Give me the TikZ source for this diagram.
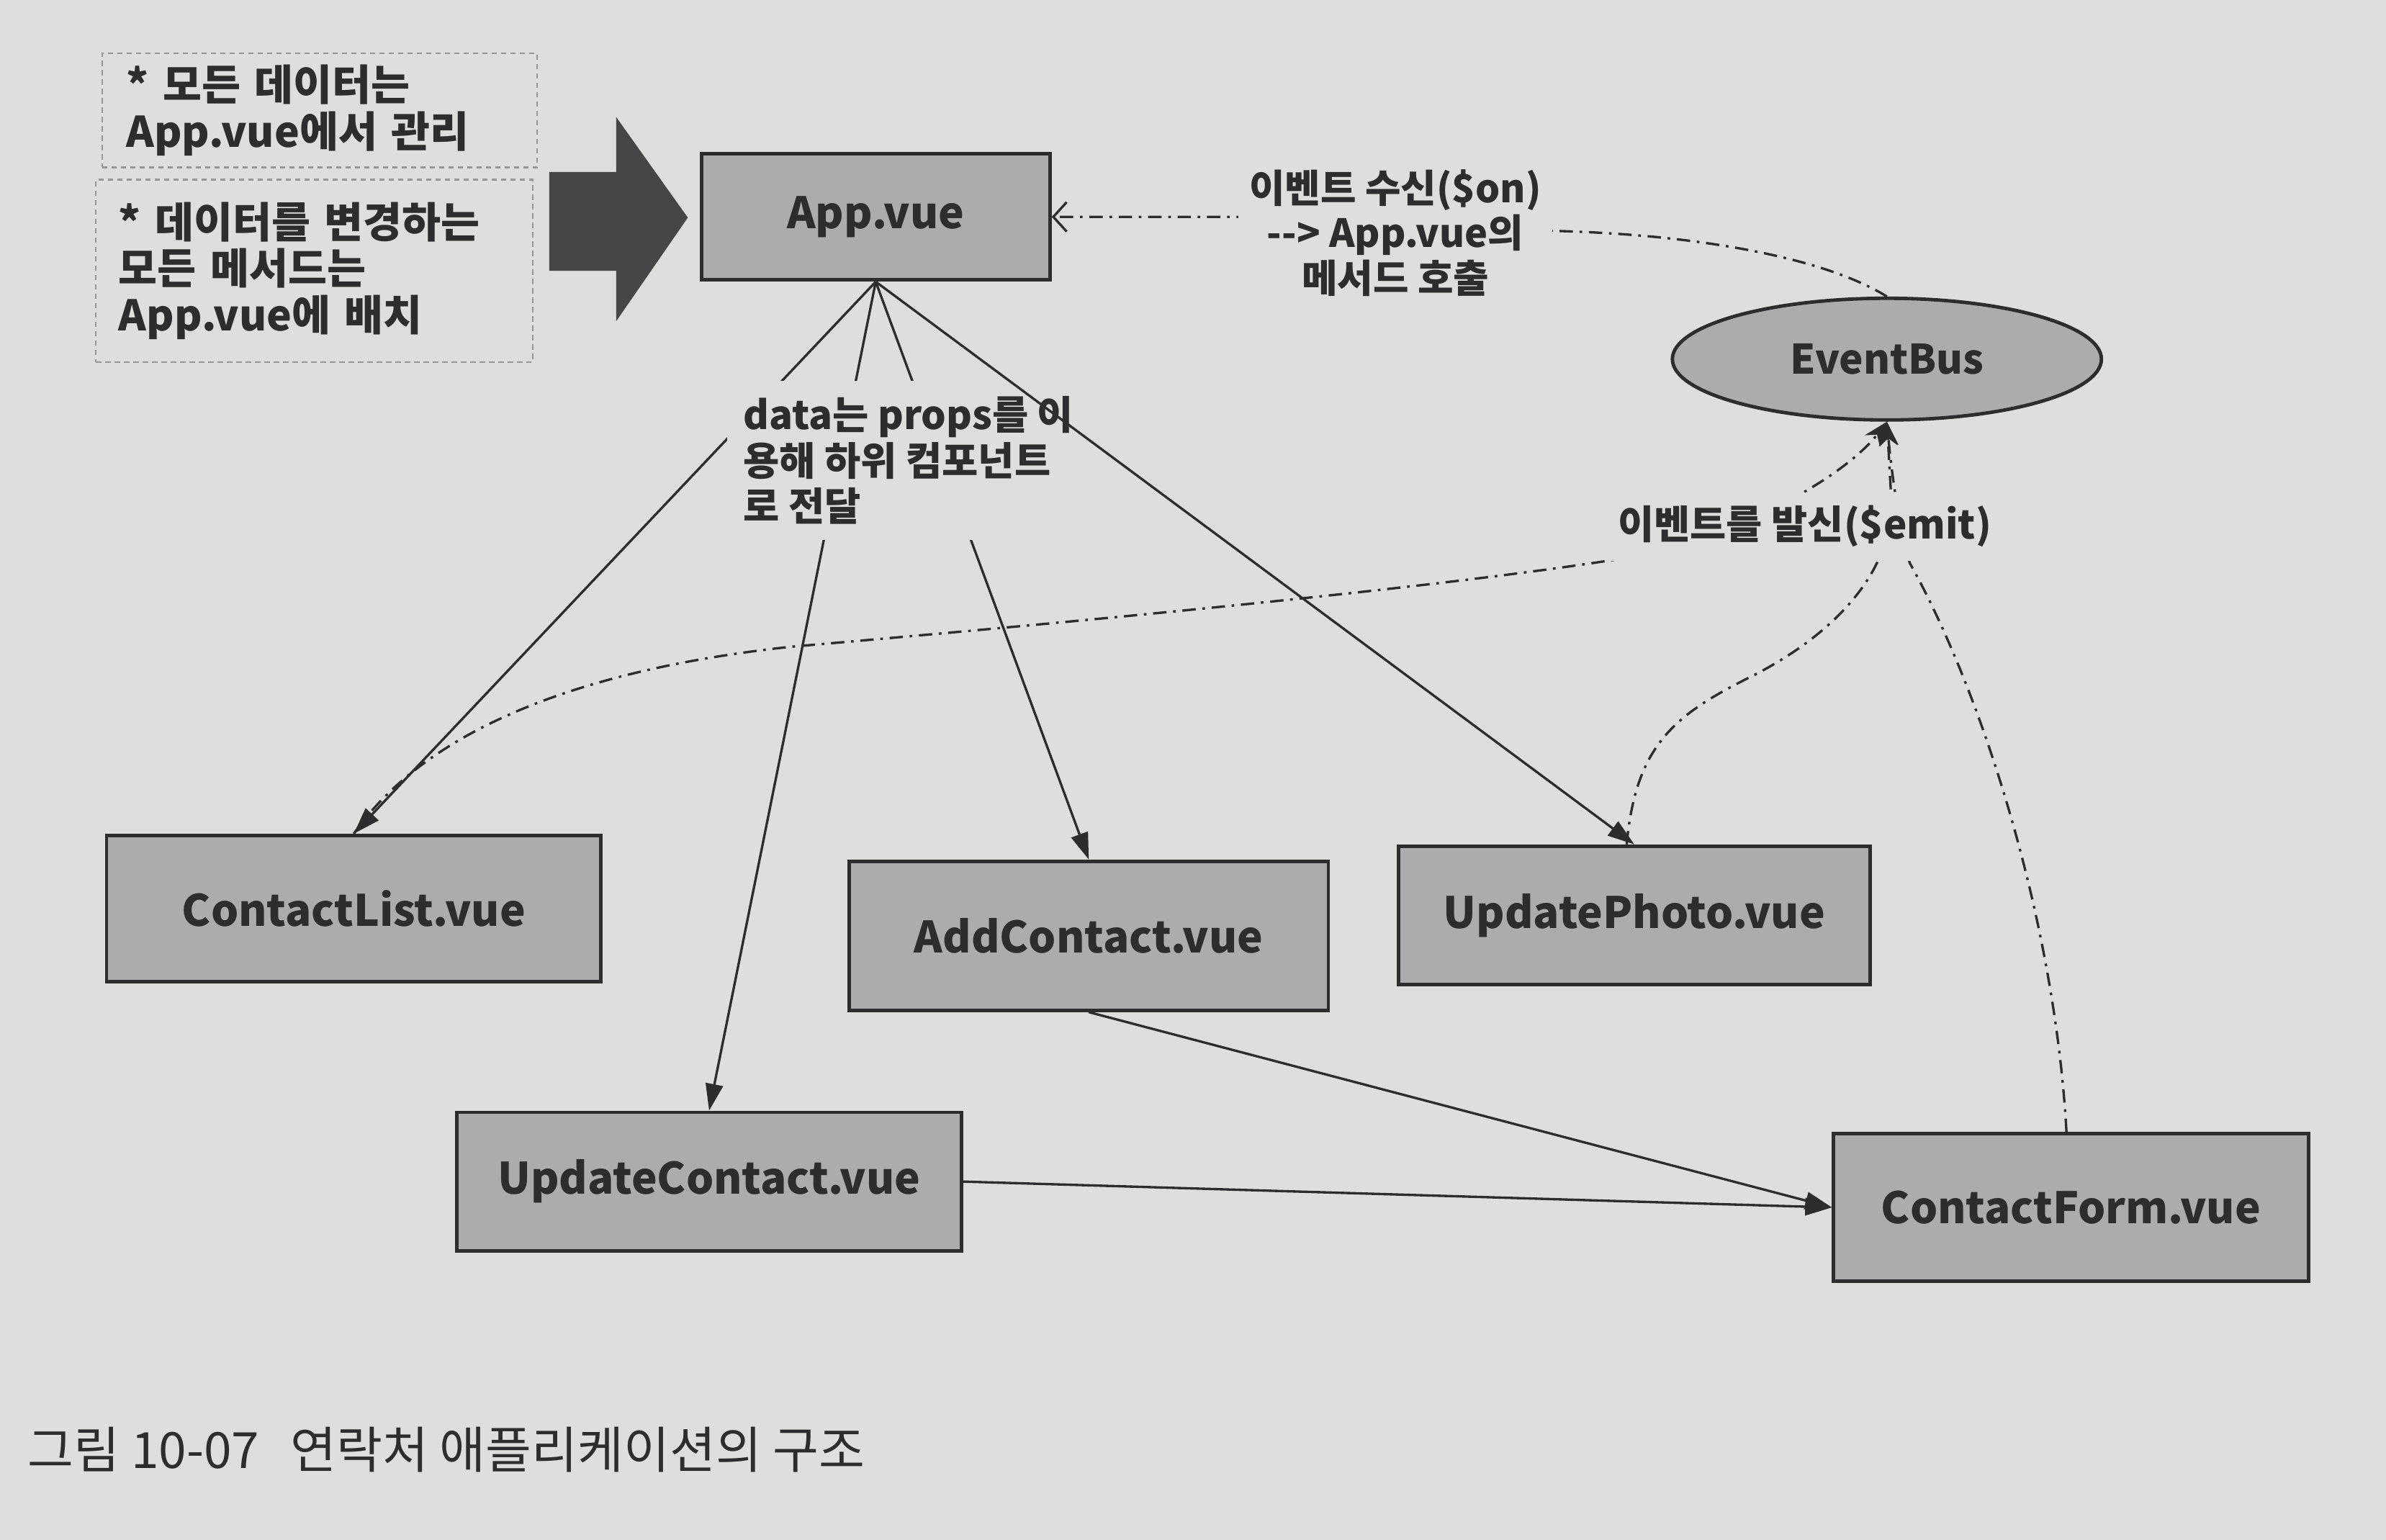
\documentclass[tikz,border=0pt]{standalone}
\usepackage{fontspec}
\setmainfont{Noto Sans CJK KR}
\usetikzlibrary{arrows.meta,shapes.geometric}
\definecolor{paper}{RGB}{222,222,220}
\definecolor{boxfill}{RGB}{172,172,172}
\definecolor{ink}{RGB}{45,45,45}
\definecolor{arrowdark}{RGB}{70,70,70}
\definecolor{notedash}{RGB}{150,150,150}
\begin{document}
\begin{tikzpicture}[x=0.02cm,y=-0.02cm,
  comp/.style={draw=ink,line width=1.3pt,fill=boxfill,inner sep=0pt,text=ink,
    font=\bfseries\fontsize{16.2}{19}\selectfont},
  note/.style={draw=notedash,dash pattern=on 2pt off 1.5pt,line width=0.6pt,text=ink,
    align=left,inner ysep=0pt,font=\bfseries\fontsize{15.8}{17.3}\selectfont},
  lbl/.style={fill=paper,inner sep=6pt,text=ink,font=\bfseries\fontsize{14.7}{17}\selectfont},
  conn/.style={draw=ink,line width=0.9pt,-{Triangle[length=10pt,width=6.5pt]}},
  evt/.style={draw=ink,line width=0.9pt,dash pattern=on 5pt off 2.5pt on 1pt off 2.5pt},
  evtarrow/.style={evt,-{Stealth[length=9pt,width=7pt]}},
  evtopen/.style={evt,-{Straight Barb[length=5pt,width=11pt]}}
]
\fill[paper] (0,0) rectangle (1568,1012);
\useasboundingbox (0,0) rectangle (1568,1012);

% note boxes
\node[note,minimum width=5.72cm,minimum height=1.5cm,text width=5.08cm,inner xsep=0.32cm] (n1) at (210,72.5)
  {* 모든 데이터는\\App.vue에서 관리};
\node[note,minimum width=5.74cm,minimum height=2.4cm,text width=5.14cm,inner xsep=0.3cm] (n2) at (206.5,178)
  {* 데이터를 변경하는\\모든 메서드는\\App.vue에 배치};

% big arrow
\fill[arrowdark] (361,113) -- (405,113) -- (405,77) -- (452,143) -- (405,211) -- (405,178) -- (361,178) -- cycle;

% component boxes
\node[comp,minimum width=4.58cm,minimum height=1.66cm] (app) at (575.5,142.5) {App.vue};
\node[comp,minimum width=6.5cm,minimum height=1.92cm] (cl) at (232.5,597) {ContactList.vue};
\node[comp,minimum width=6.3cm,minimum height=1.96cm] (ac) at (715.5,615) {AddContact.vue};
\node[comp,minimum width=6.2cm,minimum height=1.82cm] (up) at (1074,601.5) {UpdatePhoto.vue};
\node[comp,minimum width=6.64cm,minimum height=1.82cm] (uc) at (466,776.5) {UpdateContact.vue};
\node[comp,minimum width=6.24cm,minimum height=1.94cm] (cf) at (1361,793.5) {ContactForm.vue};
\node[comp,ellipse,minimum width=5.64cm,minimum height=1.6cm,font=\bfseries\fontsize{15.2}{18}\selectfont] (bus) at (1240,236) {EventBus};

% props connectors
\draw[conn] (app.south) -- (cl.north);
\draw[conn] (app.south) -- (uc.north);
\draw[conn] (app.south) -- (ac.north);
\node[lbl,align=left] (lprops) at (597,302.5) {data는 props를 이\\용해 하위 컴포넌트\\로 전달};
\draw[conn] (app.south) -- (up.north);

\draw[conn] (ac.south) -- (cf.west);
\draw[conn] (uc.east) -- (cf.west);

% event emit curves
\draw[evtarrow] (cl.north) .. controls (280,480) and (380,440) .. (520,425)
  .. controls (750,405) and (950,385) .. (1060,368)
  .. controls (1150,352) and (1215,310) .. (bus.south);
\draw[evtarrow] ([xshift=-0.1cm]up.north) .. controls (1075,490) and (1100,470) .. (1150,445)
  .. controls (1200,420) and (1243,380) .. (1243,330) -- (bus.south);
\draw[evtarrow] ([xshift=-0.06cm]cf.north) .. controls (1350,600) and (1300,450) .. (1255,370)
  .. controls (1247,340) and (1243,310) .. (bus.south);
\node[lbl,inner sep=5pt] (lemit) at (1186,346) {이벤트를 발신(\$emit)};

% event receive
\draw[evtopen] (bus.north) .. controls (1200,170) and (1120,155) .. (1030,152)
  .. controls (950,149) and (880,142.5) .. (820,142.5) -- (app.east);
\node[lbl,align=center,inner sep=4pt,font=\bfseries\fontsize{14.5}{16.8}\selectfont] (lon) at (917,153)
  {이벤트 수신(\$on)\\\mbox{-}\mbox{-}> App.vue의\\메서드 호출};

% caption
\node[anchor=base west,inner sep=0pt,text=ink,font=\fontsize{18.7}{22}\selectfont] (cap) at (18,965)
  {그림 10-07\hspace{0.4em} 연락처 애플리케이션의 구조};
\end{tikzpicture}
\end{document}
